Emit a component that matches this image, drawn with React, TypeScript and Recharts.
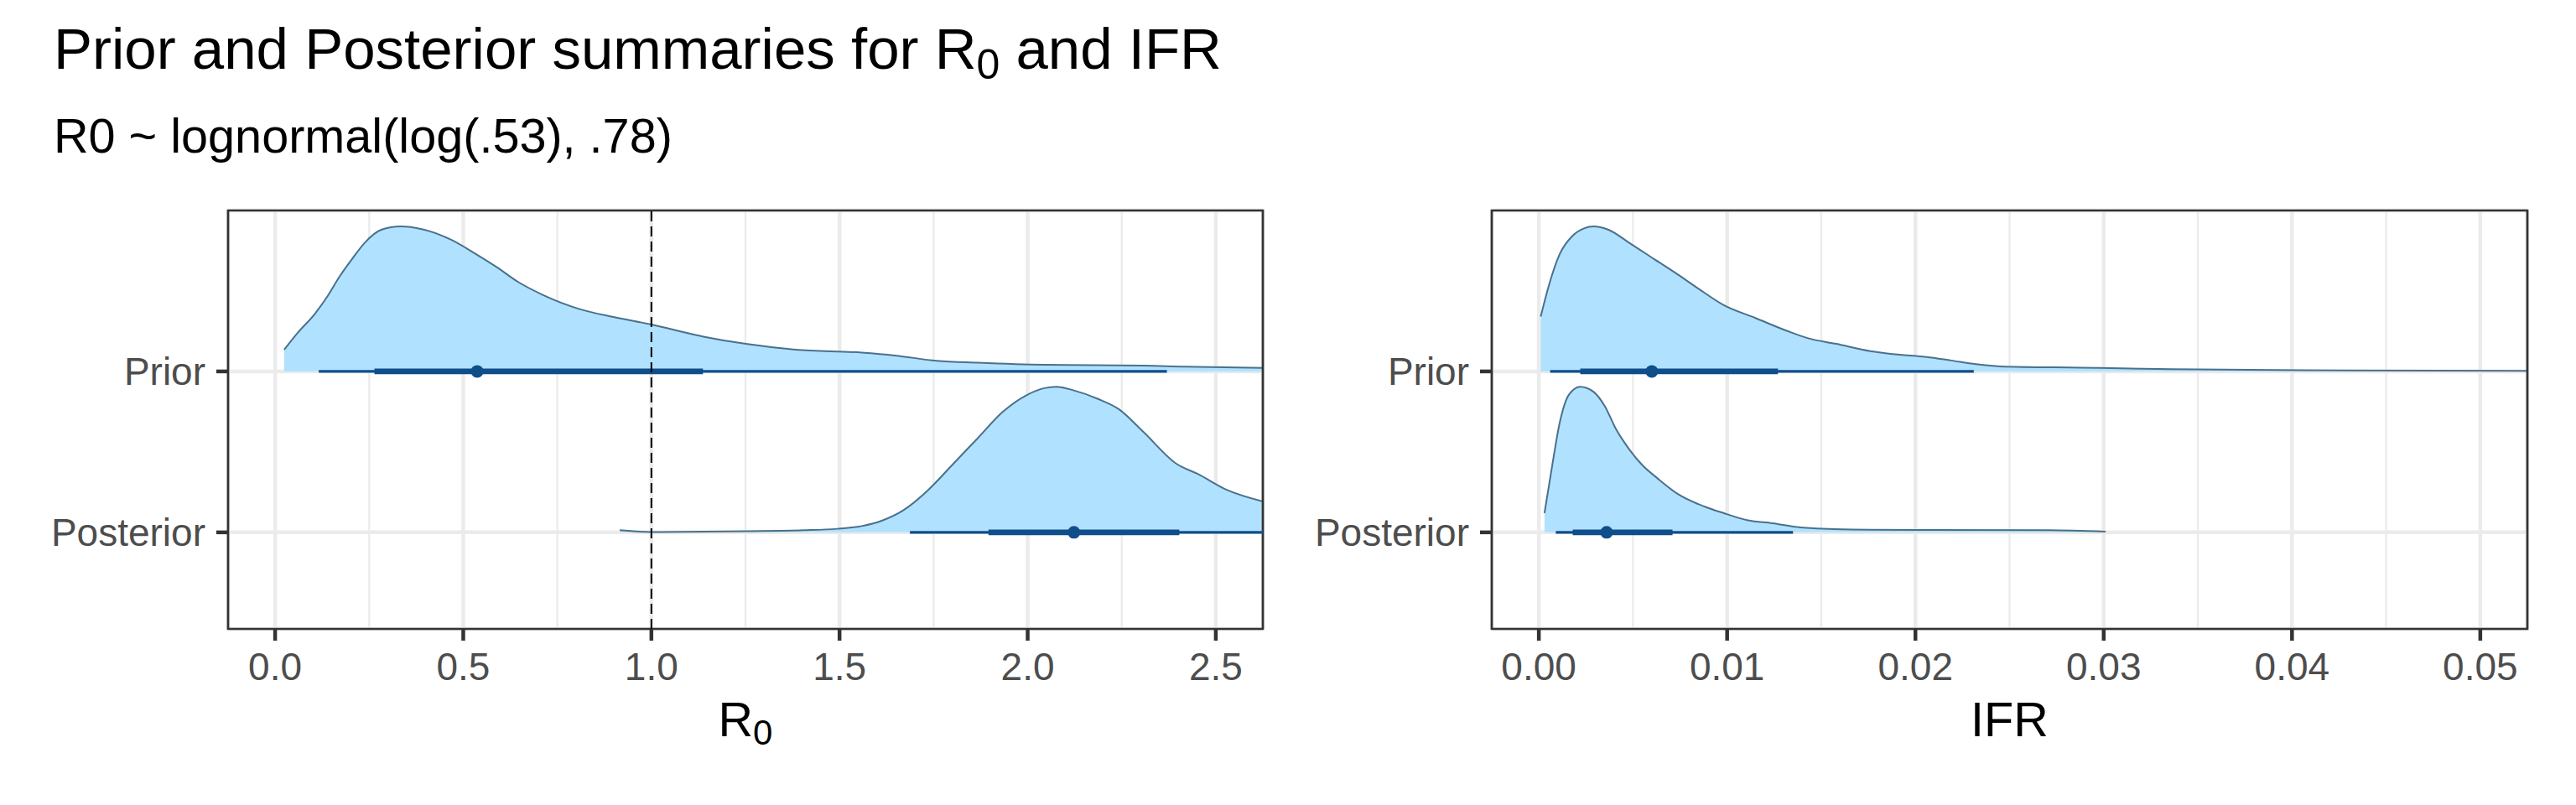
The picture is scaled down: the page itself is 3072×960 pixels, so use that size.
import {
  ComposedChart,
  Area,
  Line,
  Scatter,
  XAxis,
  YAxis,
  CartesianGrid,
  ReferenceLine,
  ReferenceArea,
} from "recharts";

// rows on the y axis: Posterior = 1, Prior = 2
const rows = ["Posterior", "Prior"];

// R0 panel
const r0Ticks = [0, 0.5, 1, 1.5, 2, 2.5];
const r0Minor = [0.25, 0.75, 1.25, 1.75, 2.25];
const r0PriorX = [0.024, 0.06, 0.106, 0.14, 0.172, 0.205, 0.238, 0.282, 0.333, 0.392, 0.469, 0.535, 0.59, 0.645, 0.711, 0.811, 0.899, 1.0, 1.141, 1.251, 1.383, 1.559, 1.648, 1.758, 1.868, 2.044, 2.308, 2.419, 2.625];
const r0PriorH = [0.135, 0.24, 0.359, 0.47, 0.592, 0.7, 0.799, 0.88, 0.901, 0.883, 0.817, 0.727, 0.646, 0.557, 0.476, 0.386, 0.338, 0.291, 0.215, 0.171, 0.135, 0.117, 0.099, 0.066, 0.054, 0.041, 0.036, 0.029, 0.022];
const r0PostX = [0.916, 1.0, 1.251, 1.405, 1.493, 1.559, 1.615, 1.67, 1.736, 1.802, 1.868, 1.934, 2.0, 2.044, 2.077, 2.121, 2.187, 2.242, 2.308, 2.396, 2.452, 2.529, 2.625];
const r0PostH = [0.013, 0.002, 0.007, 0.013, 0.022, 0.039, 0.075, 0.138, 0.264, 0.425, 0.587, 0.749, 0.856, 0.896, 0.905, 0.883, 0.829, 0.766, 0.623, 0.425, 0.363, 0.264, 0.192];
const r0Median = [2.123, 0.537];
const r0Inner = [[1.896, 2.403], [0.264, 1.137]];
const r0Outer = [[1.687, 2.75], [0.116, 2.37]];

// IFR panel
const ifrTicks = [0, 0.01, 0.02, 0.03, 0.04, 0.05];
const ifrMinor = [0.005, 0.015, 0.025, 0.035, 0.045];
const ifrPriorX = [0.0001, 0.0005, 0.0011, 0.0018, 0.0024, 0.0029, 0.0037, 0.0048, 0.0061, 0.0074, 0.0085, 0.0098, 0.0115, 0.0132, 0.0143, 0.0158, 0.0176, 0.0193, 0.0206, 0.0219, 0.0232, 0.0245, 0.0288, 0.0336, 0.0405, 0.0525];
const ifrPriorH = [0.341, 0.521, 0.727, 0.844, 0.889, 0.901, 0.88, 0.799, 0.7, 0.601, 0.512, 0.413, 0.332, 0.251, 0.206, 0.171, 0.126, 0.102, 0.09, 0.068, 0.045, 0.031, 0.023, 0.014, 0.007, 0.004];
const ifrPostX = [0.0003, 0.0007, 0.0011, 0.0016, 0.0022, 0.0029, 0.0035, 0.0041, 0.0048, 0.0055, 0.0063, 0.0074, 0.0085, 0.0098, 0.0111, 0.0124, 0.0139, 0.0176, 0.0271, 0.0301];
const ifrPostH = [0.12, 0.408, 0.677, 0.856, 0.905, 0.874, 0.785, 0.641, 0.516, 0.417, 0.336, 0.237, 0.174, 0.12, 0.075, 0.057, 0.031, 0.016, 0.013, 0.004];
const ifrMedian = [0.0036, 0.006];
const ifrInner = [[0.0018, 0.0071], [0.0022, 0.0127]];
const ifrOuter = [[0.0009, 0.0135], [0.0006, 0.0231]];

const FILL = "#B0E2FF";
const OUTLINE = "#4A708B";
const INTERVAL = "#104E8B";
const GRID = "#EBEBEB";
const DARK = "#333333";
const Y_DOMAIN: [number, number] = [0.4, 3.0];

const slab = (xs: number[], hs: number[], row: number) =>
  xs.map((x, i) => ({ x, y: row + hs[i] }));
const seg = (range: number[], row: number) => [
  { x: range[0], y: row },
  { x: range[1], y: row },
];

interface PanelProps {
  left: number;
  width: number;
  yAxisWidth: number;
  rightMargin: number;
  domain: [number, number];
  ticks: number[];
  minor: number[];
  digits: number;
  slabs: { x: number; y: number }[][];
  median: number[];
  inner: number[][];
  outer: number[][];
  refX?: number;
  label: React.ReactNode;
}

function Panel(p: PanelProps) {
  return (
    <div style={{ position: "absolute", left: p.left, top: 0 }}>
      <ComposedChart
        width={p.width}
        height={960}
        margin={{ top: 251, right: p.rightMargin, bottom: 0, left: 0 }}
      >
        {/* minor vertical grid from a hidden axis */}
        <CartesianGrid
          xAxisId="minor"
          stroke={GRID}
          strokeWidth={2.3}
          horizontal={false}
        />
        <CartesianGrid stroke={GRID} strokeWidth={4.5} />
        <XAxis
          xAxisId="minor"
          dataKey="x"
          type="number"
          domain={p.domain}
          allowDataOverflow
          ticks={p.minor}
          hide
        />
        <XAxis
          dataKey="x"
          type="number"
          domain={p.domain}
          allowDataOverflow
          ticks={p.ticks}
          tickFormatter={(v) => Number(v).toFixed(p.digits)}
          height={210}
          axisLine={false}
          tickSize={14}
          tickMargin={14}
          tickLine={{ stroke: DARK, strokeWidth: 4.5 }}
          tick={{ fill: "#4D4D4D", fontSize: 46 }}
          label={{
            content: ({ viewBox }: any) => (
              <text
                x={viewBox.x + viewBox.width / 2}
                y={viewBox.y + 128}
                textAnchor="middle"
                fontSize={57.6}
                fill="#000000"
              >
                {p.label}
              </text>
            ),
          }}
        />
        <YAxis
          dataKey="y"
          type="number"
          domain={Y_DOMAIN}
          allowDataOverflow
          ticks={[1, 2]}
          tickFormatter={(v) => rows[Number(v) - 1]}
          width={p.yAxisWidth}
          axisLine={false}
          tickSize={14}
          tickMargin={13}
          tickLine={{ stroke: DARK, strokeWidth: 4.5 }}
          tick={{ fill: "#4D4D4D", fontSize: 46 }}
        />
        {p.slabs.map((d, i) => (
          <Area
            key={"slab" + i}
            data={d}
            dataKey="y"
            type="monotone"
            baseValue={i + 1}
            fill={FILL}
            fillOpacity={1}
            stroke={OUTLINE}
            strokeWidth={2}
            dot={false}
            activeDot={false}
            isAnimationActive={false}
          />
        ))}
        {p.outer.map((r, i) => (
          <Line
            key={"outer" + i}
            data={seg(r, i + 1)}
            dataKey="y"
            stroke={INTERVAL}
            strokeWidth={3.3}
            dot={false}
            activeDot={false}
            isAnimationActive={false}
          />
        ))}
        {p.inner.map((r, i) => (
          <Line
            key={"inner" + i}
            data={seg(r, i + 1)}
            dataKey="y"
            stroke={INTERVAL}
            strokeWidth={6.7}
            dot={false}
            activeDot={false}
            isAnimationActive={false}
          />
        ))}
        <Scatter
          data={p.median.map((m, i) => ({ x: m, y: i + 1 }))}
          isAnimationActive={false}
          shape={(s: any) => <circle cx={s.cx} cy={s.cy} r={7.5} fill={INTERVAL} />}
        />
        {p.refX !== undefined && (
          <ReferenceLine
            x={p.refX}
            stroke="#000000"
            strokeWidth={2}
            strokeDasharray="12 6"
          />
        )}
        <ReferenceArea
          x1={p.domain[0]}
          x2={p.domain[1]}
          y1={Y_DOMAIN[0]}
          y2={Y_DOMAIN[1]}
          fill="none"
          stroke={DARK}
          strokeWidth={2.7}
          ifOverflow="visible"
        />
      </ComposedChart>
    </div>
  );
}

export default function App() {
  return (
    <div
      style={{
        position: "absolute",
        left: 0,
        top: 0,
        width: 3072,
        height: 960,
        background: "#FFFFFF",
        fontFamily: "'Liberation Sans', Arial, sans-serif",
      }}
    >
      <svg
        width={3072}
        height={240}
        style={{ position: "absolute", left: 0, top: 0 }}
      >
        <text x={64} y={82} fontSize={69} fill="#000000">
          Prior and Posterior summaries for R
          <tspan fontSize={50} dy={12}>0</tspan>
          <tspan dy={-12}> and IFR</tspan>
        </text>
        <text x={64} y={182} fontSize={57.6} fill="#000000">
          R0 ~ lognormal(log(.53), .78)
        </text>
      </svg>
      <Panel
        left={0}
        width={1540}
        yAxisWidth={272}
        rightMargin={34}
        domain={[-0.125, 2.625]}
        ticks={r0Ticks}
        minor={r0Minor}
        digits={1}
        slabs={[slab(r0PostX, r0PostH, 1), slab(r0PriorX, r0PriorH, 2)]}
        median={r0Median}
        inner={r0Inner}
        outer={r0Outer}
        refX={1}
        label={
          <>
            R<tspan fontSize={42} dy={10}>0</tspan>
          </>
        }
      />
      <Panel
        left={1540}
        width={1532}
        yAxisWidth={239}
        rightMargin={58}
        domain={[-0.0025, 0.0525]}
        ticks={ifrTicks}
        minor={ifrMinor}
        digits={2}
        slabs={[slab(ifrPostX, ifrPostH, 1), slab(ifrPriorX, ifrPriorH, 2)]}
        median={ifrMedian}
        inner={ifrInner}
        outer={ifrOuter}
        label="IFR"
      />
    </div>
  );
}
